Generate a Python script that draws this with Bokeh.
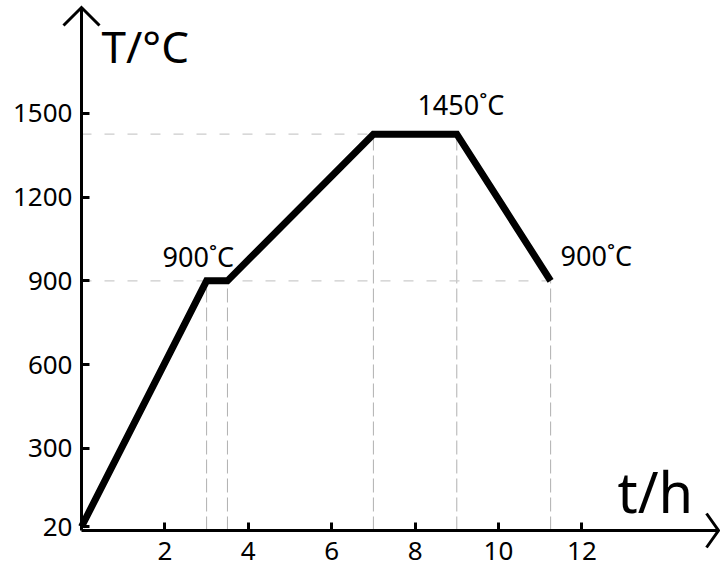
from bokeh.plotting import figure
from bokeh.models import Range1d, FixedTicker, ColumnDataSource
from bokeh.core.properties import value
from bokeh.embed import file_html
from bokeh.resources import INLINE

# ---- data ----
t_h = [0, 3, 3.5, 7, 9, 11.25]
temp_c = [20, 900, 900, 1425, 1425, 900]

x_ticks = [2, 4, 6, 8, 10, 12]
y_ticks = [20, 300, 600, 900, 1200, 1500]

ann_idx = [1, 3, 5]
ann_text = ["900˚C", "1450˚C", "900˚C"]

guide_idx = [1, 2, 3, 4, 5]   # points with vertical guides
hguide_idx = [5, 3]            # points with horizontal guides

# ---- layout ----
W, H = 720, 569
X0, X1 = -1.9424, 15.324
Y0, Y1 = -133.1, 1903.4
XAXIS_Y = 6.5
ux = (X1 - X0) / W   # data units per px
uy = (Y1 - Y0) / H

x_tip = X1 - 2 * ux
y_tip = Y1 - 7 * uy
FONT = "Noto Sans"

p = figure(width=W, height=H, output_backend="svg", toolbar_location=None,
           x_range=Range1d(X0, X1), y_range=Range1d(Y0, Y1),
           min_border=0, min_border_left=0, min_border_right=0,
           min_border_top=0, min_border_bottom=0,
           outline_line_color=None, background_fill_color="white")
p.grid.visible = False

for ax in (p.xaxis, p.yaxis):
    ax.axis_line_width = 3
    ax.axis_line_color = "black"
    ax.major_tick_line_width = 3
    ax.major_tick_line_color = "black"
    ax.major_tick_in = 8
    ax.major_tick_out = 0
    ax.minor_tick_line_color = None
    ax.major_label_text_font = FONT
    ax.major_label_text_font_size = "26px"
    ax.major_label_text_color = "black"

p.xaxis.fixed_location = XAXIS_Y
p.yaxis.fixed_location = 0
p.xaxis.bounds = (0, x_tip)
p.yaxis.bounds = (XAXIS_Y, y_tip)
p.xaxis.ticker = FixedTicker(ticks=x_ticks)
p.yaxis.ticker = FixedTicker(ticks=y_ticks)
p.xaxis.major_label_standoff = 12
p.yaxis.major_label_standoff = 9

# dashed guides
vx = [t_h[i] for i in guide_idx]
vy = [temp_c[i] for i in guide_idx]
p.segment(x0=vx, y0=[XAXIS_Y] * len(vx), x1=vx, y1=vy,
          line_color="#b0b0b0", line_width=1, line_dash="14 5")
hx = [t_h[i] for i in hguide_idx]
hy = [temp_c[i] for i in hguide_idx]
p.segment(x0=[0] * len(hx), y0=hy, x1=hx, y1=hy,
          line_color="#cccccc", line_width=1.2, line_dash="10 13")

# main curve
p.line(t_h, temp_c, line_color="black", line_width=7, line_join="miter")

# arrow heads
p.line([-18 * ux, 0, 18 * ux], [y_tip - 18 * uy, y_tip, y_tip - 18 * uy],
       line_color="black", line_width=3, line_join="miter")
p.line([x_tip - 12 * ux, x_tip, x_tip - 12 * ux],
       [XAXIS_Y + 17 * uy, XAXIS_Y, XAXIS_Y - 17 * uy],
       line_color="black", line_width=3, line_join="miter")

# annotations
src = ColumnDataSource(dict(
    x=[t_h[i] for i in ann_idx],
    y=[temp_c[i] for i in ann_idx],
    text=ann_text,
    xo=[-44, 44, 10],
    yo=[-24, -30, -25],
))
p.text(x="x", y="y", text="text", source=src, x_offset="xo", y_offset="yo",
       text_font=value(FONT), text_font_size="27px", text_color="black",
       text_align="left", text_baseline="alphabetic")

# axis titles
p.text(x=[20 * ux], y=[300 + (448 - 46) * uy], text=["T/°C"],
       text_font=value(FONT), text_font_size="44px", text_color="black",
       text_align="left", text_baseline="alphabetic")
p.text(x=[(617 - 81) * ux], y=[300 - (491 - 448) * uy], text=["t/h"],
       text_font=value(FONT), text_font_size="56px", text_color="black",
       text_align="left", text_baseline="alphabetic")

open("out.html", "w").write(file_html(p, INLINE))
